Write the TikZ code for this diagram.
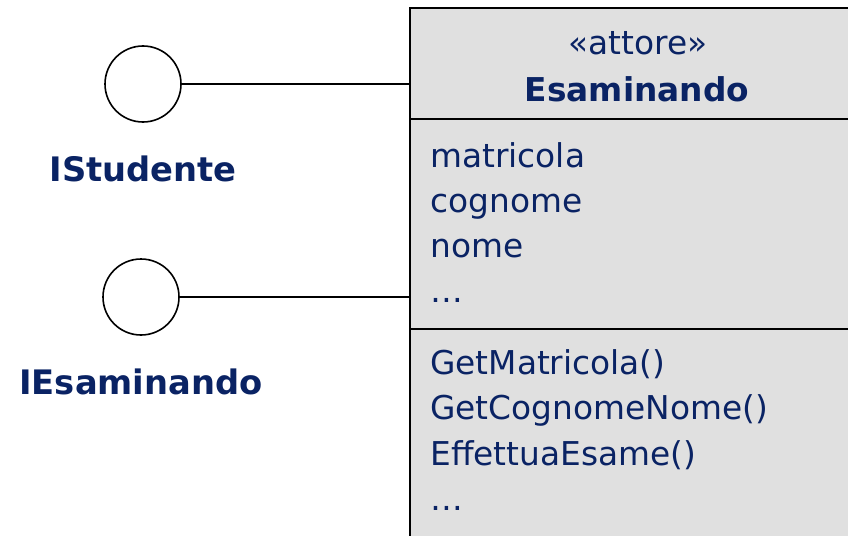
\documentclass[tikz,border=0pt]{standalone}
\usepackage{fontspec}
\setmainfont{DejaVu Sans}
\usetikzlibrary{positioning}
\definecolor{umlblue}{RGB}{10,35,100}
\definecolor{umlgray}{RGB}{224,224,224}

\begin{document}
\begin{tikzpicture}[x=0.75pt,y=-0.75pt,
    comp/.style={draw=black, fill=umlgray, line width=1.5pt, minimum width=342pt, outer sep=0pt, inner sep=0pt},
    iface/.style={circle, draw=black, line width=1.2pt, minimum size=57pt, inner sep=0pt},
    txt/.style={text=umlblue, font=\fontsize{24.6}{30}\selectfont, inner sep=0pt},
    lbl/.style={txt, font=\fontsize{25.3}{30}\selectfont\bfseries, anchor=base}]
\useasboundingbox (0,0) rectangle (848,535);
\clip (0,0) rectangle (848,535);

% class box
\node[comp, minimum height=83.25pt, anchor=north west] (head) at (410,8) {};
\node[comp, minimum height=157.5pt, below=0pt of head] (attrs) {};
\node[comp, minimum height=162pt, below=0pt of attrs] (ops) {};

\node[txt, anchor=base] (stereo) at (638,55) {«attore»};
\node[txt, anchor=base, font=\fontsize{24.6}{30}\selectfont\bfseries] (cname) at (637,101) {Esaminando};

\node[txt, anchor=base west] (matricola) at (430,167) {matricola};
\node[txt, anchor=base west] (cognome) at (430,212) {cognome};
\node[txt, anchor=base west] (nome) at (430,257) {nome};
\node[txt, anchor=base west] (attrmore) at (430,302) {\dots};

\node[txt, anchor=base west] (getmat) at (430,374) {GetMatricola()};
\node[txt, anchor=base west] (getcn) at (430,419) {GetCognomeNome()};
\node[txt, anchor=base west] (esame) at (430,465) {EffettuaEsame()};
\node[txt, anchor=base west] (opsmore) at (430,510) {\dots};

% interfaces
\node[iface] (istud) at (143,84) {};
\node[lbl] (istudlbl) at (143,181) {IStudente};
\node[iface] (iesam) at (141,297) {};
\node[lbl] (iesamlbl) at (141,394) {IEsaminando};

\draw[line width=1.2pt] (istud) -- (istud -| head.west);
\draw[line width=1.2pt] (iesam) -- (iesam -| attrs.west);
\end{tikzpicture}
\end{document}
